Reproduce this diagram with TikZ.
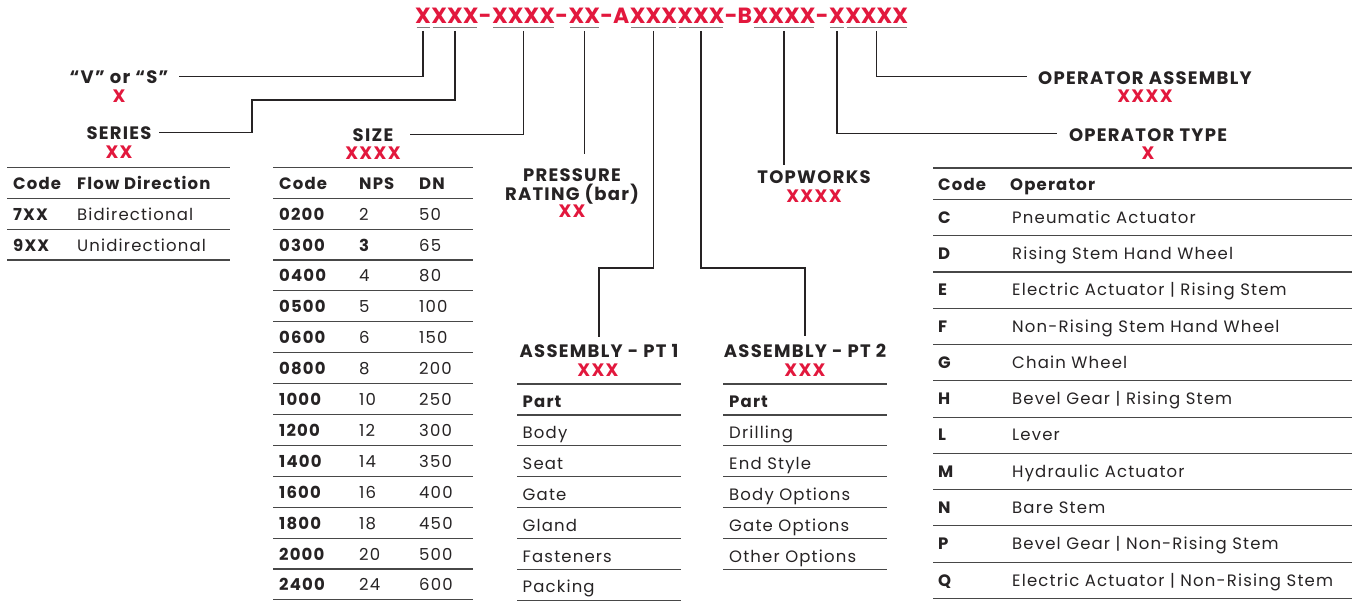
\documentclass[tikz,border=0pt]{standalone}
\usepackage{fontspec}
\setmainfont{Poppins}[LetterSpace=7]
\newfontfamily\codeface{Poppins}
\usetikzlibrary{positioning}

\definecolor{codered}{HTML}{E2183D}
\definecolor{ink}{HTML}{262324}
\definecolor{rulegray}{HTML}{474747}

\tikzset{
	codepart/.style={inner sep=0pt, text height=15.5pt, text depth=0pt, text=codered, font=\codeface\fontsize{22}{22}\selectfont\bfseries},
	uline/.style={draw=gray, line width=1.4pt},
	conn/.style={draw=ink, line width=1.3pt},
	heading/.style={inner sep=0pt, anchor=base, text=ink, font=\fontsize{18}{19}\selectfont\bfseries},
	redx/.style={heading, text=codered},
	cell/.style={inner sep=0pt, anchor=west, text height=11.5pt, text depth=0pt, text=ink, font=\fontsize{16.5}{18}\selectfont},
	cellb/.style={cell, font=\fontsize{16.5}{18}\selectfont\bfseries},
	tabrule/.style={draw=rulegray, line width=1.1pt},
}

\begin{document}
\begin{tikzpicture}[x=1pt,y=1pt]
	
	\useasboundingbox (0,0) rectangle (1354,-601);
	
	% part number
	\node[codepart, anchor=west] (c1) at (415,-16) {X};
	\node[codepart, right=0pt of c1] (c2) {XXX};
	\node[codepart, right=0pt of c2] (h1) {-};
	\node[codepart, right=0pt of h1] (c3) {XXXX};
	\node[codepart, right=0pt of c3] (h2) {-};
	\node[codepart, right=0pt of h2] (c4) {XX};
	\node[codepart, right=0pt of c4] (h3) {-A};
	\node[codepart, right=0pt of h3] (c5) {XXX};
	\node[codepart, right=0pt of c5] (c6) {XXX};
	\node[codepart, right=0pt of c6] (h4) {-B};
	\node[codepart, right=0pt of h4] (c7) {XXXX};
	\node[codepart, right=0pt of c7] (h5) {-};
	\node[codepart, right=0pt of h5] (c8) {X};
	\node[codepart, right=0pt of c8] (c9) {XXXX};
	
	\foreach \p in {c1,c2,c3,c4,c5,c6,c7,c8,c9}
	{
		\draw[uline] ([xshift=1.5pt,yshift=-3.5pt]\p.south west) -- ([xshift=-1.5pt,yshift=-3.5pt]\p.south east);
	}
	
	% labels
	\node[heading] (vs) at (119,-84) {“V” or “S”};
	\node[redx] (vsx) at (119,-103) {X};
	\node[heading] (series) at (119,-140) {SERIES};
	\node[redx] (seriesx) at (119,-159) {XX};
	\node[heading] (size) at (373,-141.5) {SIZE};
	\node[redx] (sizex) at (373,-160) {XXXX};
	\node[heading] (pres) at (572,-182) {PRESSURE};
	\node[heading] (pres2) at (572,-201) {RATING (bar)};
	\node[redx] (presx) at (572,-218) {XX};
	\node[heading] (top) at (814,-184) {TOPWORKS};
	\node[redx] (topx) at (814,-202.5) {XXXX};
	\node[heading] (pt1) at (599,-358) {ASSEMBLY - PT 1};
	\node[redx] (pt1x) at (598,-376.5) {XXX};
	\node[heading] (pt2) at (805,-358) {ASSEMBLY - PT 2};
	\node[redx] (pt2x) at (805,-376.5) {XXX};
	\node[heading] (oasm) at (1145,-85) {OPERATOR ASSEMBLY};
	\node[redx] (oasmx) at (1145,-103) {XXXX};
	\node[heading] (otype) at (1148,-141.5) {OPERATOR TYPE};
	\node[redx] (otypex) at (1148,-160) {X};
	
	% connectors
	\coordinate (sbend) at (252,-100);
	\coordinate (abend) at (0,-268);
	\path ([yshift=15pt]pres.north) coordinate (prestop);
	\path ([yshift=8pt]pt1.north) coordinate (pt1top);
	\path ([yshift=8pt]pt2.north) coordinate (pt2top);
	\path ([yshift=6pt]top.north) coordinate (toptop);
	
	\draw[conn] ([yshift=-7pt]c1.south) |- ([xshift=10pt,yshift=1.5pt]vs.east);
	\draw[conn] ([yshift=-7pt]c2.south) |- (sbend) |- ([xshift=7pt,yshift=1pt]series.east);
	\draw[conn] ([yshift=-7pt]c3.south) |- ([xshift=16pt,yshift=1pt]size.east);
	\draw[conn] ([yshift=-7pt]c4.south) -- (c4.south |- prestop);
	\draw[conn] ([yshift=-7pt]c5.south) |- (pt1top |- abend) -- (pt1top);
	\draw[conn] ([yshift=-7pt]c6.south) |- (pt2top |- abend) -- (pt2top);
	\draw[conn] ([yshift=-7pt]c7.south) -- (c7.south |- toptop);
	\draw[conn] ([yshift=-7pt]c8.south) |- ([xshift=-12pt,yshift=1.5pt]otype.west);
	\draw[conn] ([yshift=-7pt]c9.south) |- ([xshift=-11pt,yshift=2.5pt]oasm.west);
	
	% series table
	\foreach \k in {0,...,3}
	{
		\draw[tabrule] (7,-167.3-30.9*\k) -- (230,-167.3-30.9*\k);
	}
	\node[cellb] (sercode) at (13,-183.5) {Code};
	\node[cellb] (serflow) at (77,-183.5) {Flow Direction};
	\foreach \c/\t [count=\i] in {7XX/Bidirectional, 9XX/Unidirectional}
	{
		\node[cellb] (serc\i) at (13,-183.5-31*\i) {\c};
		\node[cell] (sert\i) at (77,-183.5-31*\i) {\t};
	}
	
	% size table
	\foreach \k in {0,...,14}
	{
		\draw[tabrule] (273,-167.3-30.9*\k) -- (473,-167.3-30.9*\k);
	}
	\node[cellb] (szcode) at (279,-183.5) {Code};
	\node[cellb] (sznps) at (359,-183.5) {NPS};
	\node[cellb] (szdn) at (419,-183.5) {DN};
	\foreach \c/\n/\d [count=\i] in {0200/2/50, 0300/{\textbf{3}}/65, 0400/4/80, 0500/5/100, 0600/6/150, 0800/8/200, 1000/10/250, 1200/12/300, 1400/14/350, 1600/16/400, 1800/18/450, 2000/20/500, 2400/24/600}
	{
		\node[cellb] (szc\i) at (279,-183.5-30.9*\i) {\c};
		\node[cell] (szn\i) at (359,-183.5-30.9*\i) {\n};
		\node[cell] (szd\i) at (419,-183.5-30.9*\i) {\d};
	}
	
	% assembly tables
	\foreach \k in {0,...,7}
	{
		\draw[tabrule] (517,-384-30.95*\k) -- (681,-384-30.95*\k);
	}
	\node[cellb] (ap1) at (522.5,-401.5) {Part};
	\foreach \t [count=\i] in {Body, Seat, Gate, Gland, Fasteners, Packing}
	{
		\node[cell] (ap1\i) at (522.5,-401.5-30.95*\i) {\t};
	}
	\foreach \k in {0,...,6}
	{
		\draw[tabrule] (723,-384-30.95*\k) -- (887,-384-30.95*\k);
	}
	\node[cellb] (ap2) at (729,-401.5) {Part};
	\foreach \t [count=\i] in {Drilling, End Style, Body Options, Gate Options, Other Options}
	{
		\node[cell] (ap2\i) at (729,-401.5-30.95*\i) {\t};
	}
	
	% operator table
	\draw[tabrule] (933,-168) -- (1352,-168);
	\foreach \k in {0,...,11}
	{
		\draw[tabrule] (933,-199.5-36.27*\k) -- (1352,-199.5-36.27*\k);
	}
	\node[cellb] (opcode) at (938,-185) {Code};
	\node[cellb] (opname) at (1010,-185) {Operator};
	\foreach \c/\t [count=\i] in {C/Pneumatic Actuator, D/Rising Stem Hand Wheel, E/Electric Actuator | Rising Stem, F/Non-Rising Stem Hand Wheel, G/Chain Wheel, H/Bevel Gear | Rising Stem, L/Lever, M/Hydraulic Actuator, N/Bare Stem, P/Bevel Gear | Non-Rising Stem, Q/Electric Actuator | Non-Rising Stem}
	{
		\node[cellb] (opc\i) at (938,-181.3-36.27*\i) {\c};
		\node[cell] (opt\i) at (1012,-181.3-36.27*\i) {\t};
	}
	
\end{tikzpicture}
\end{document}
